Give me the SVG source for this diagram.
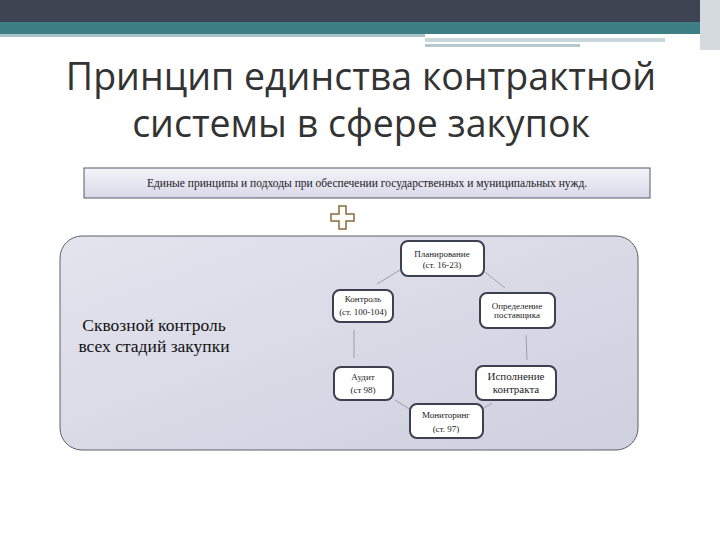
<svg xmlns="http://www.w3.org/2000/svg" width="720" height="540" viewBox="0 0 720 540">
<defs>
<style>
.nb{fill:#fff;stroke:#3c4050;stroke-width:2}
.nt{font-family:"Liberation Serif",serif;font-size:9px;fill:#222;text-anchor:middle}
.cn{stroke:#9aa0aa;stroke-width:1;fill:none}
</style>
<linearGradient id="bg" x1="0" y1="0" x2="1" y2="1"><stop offset="0" stop-color="#e4e4ef"/><stop offset="1" stop-color="#cfd0de"/></linearGradient>
<linearGradient id="bn" x1="0" y1="0" x2="0" y2="1"><stop offset="0" stop-color="#f4f4fa"/><stop offset="1" stop-color="#d8d8e8"/></linearGradient>
</defs>
<rect width="720" height="540" fill="#fff"/>
<rect x="0" y="0" width="700" height="22" fill="#3f4452"/>
<rect x="0" y="22" width="700" height="12" fill="#3e7f86"/>
<rect x="0" y="34" width="425" height="3" fill="#a8c4c8"/>
<rect x="425" y="38" width="240" height="4" fill="#c7d7da"/>
<rect x="425" y="44" width="155" height="3" fill="#b5c9cc"/>
<rect x="700" y="0" width="20" height="50" fill="#d5dadf"/>
<text x="361" y="90" font-family="'Open Sans',sans-serif" font-size="37.5" fill="#333" text-anchor="middle">Принцип единства контрактной</text>
<text x="361" y="137" font-family="'Open Sans',sans-serif" font-size="37.5" fill="#333" text-anchor="middle">системы в сфере закупок</text>
<g id="banner">
<rect x="84" y="168" width="566" height="30" fill="url(#bn)" stroke="#555a6a" stroke-width="1"/>
<text x="367" y="187" font-family="'Liberation Serif',serif" font-size="11.5" fill="#222" text-anchor="middle">Единые принципы и подходы при обеспечении государственных и муниципальных нужд.</text>
</g>
<g id="plus"><path d="M339 206h7v8h8v7h-8v8h-7v-8h-8v-7h8z" fill="#fff" stroke="#8a6a3a" stroke-width="1.5"/></g>
<g id="panel">
<rect x="60" y="236" width="578" height="214" rx="22" fill="url(#bg)" stroke="#5a5e6e" stroke-width="1"/>
<text x="154" y="331" font-family="'Liberation Serif',serif" font-size="17.5" fill="#111" text-anchor="middle">Сквозной контроль</text>
<text x="154" y="352" font-family="'Liberation Serif',serif" font-size="17.5" fill="#111" text-anchor="middle">всех стадий закупки</text>
</g>
<g id="connectors">
<line class="cn" x1="400" y1="270" x2="377" y2="284"/>
<line class="cn" x1="485" y1="272" x2="505" y2="288"/>
<line class="cn" x1="354" y1="330" x2="354" y2="358"/>
<line class="cn" x1="526" y1="335" x2="527" y2="360"/>
<line class="cn" x1="395" y1="400" x2="411" y2="410"/>
<line class="cn" x1="484" y1="408" x2="492" y2="403"/>
</g>
<g id="n1"><rect class="nb" x="401" y="241" width="83" height="35" rx="7"/><text class="nt" x="442" y="257">Планирование</text><text class="nt" x="442" y="268">(ст. 16-23)</text></g>
<g id="n2"><rect class="nb" x="333" y="290" width="60" height="32" rx="7"/><text class="nt" x="363" y="302">Контроль</text><text class="nt" x="363" y="315">(ст. 100-104)</text></g>
<g id="n3"><rect class="nb" x="480" y="293" width="75" height="35" rx="7"/><text class="nt" x="517" y="309">Определение</text><text class="nt" x="517" y="318">поставщика</text></g>
<g id="n4"><rect class="nb" x="334" y="367" width="59" height="33" rx="7"/><text class="nt" x="363" y="380">Аудит</text><text class="nt" x="363" y="393">(ст 98)</text></g>
<g id="n5"><rect class="nb" x="476" y="366" width="80" height="34" rx="7"/><text class="nt" x="516" y="380" style="font-size:11px">Исполнение</text><text class="nt" x="516" y="393" style="font-size:11px">контракта</text></g>
<g id="n6"><rect class="nb" x="410" y="404" width="73" height="34" rx="7"/><text class="nt" x="446" y="418">Мониторинг</text><text class="nt" x="446" y="432">(ст. 97)</text></g>
</svg>
